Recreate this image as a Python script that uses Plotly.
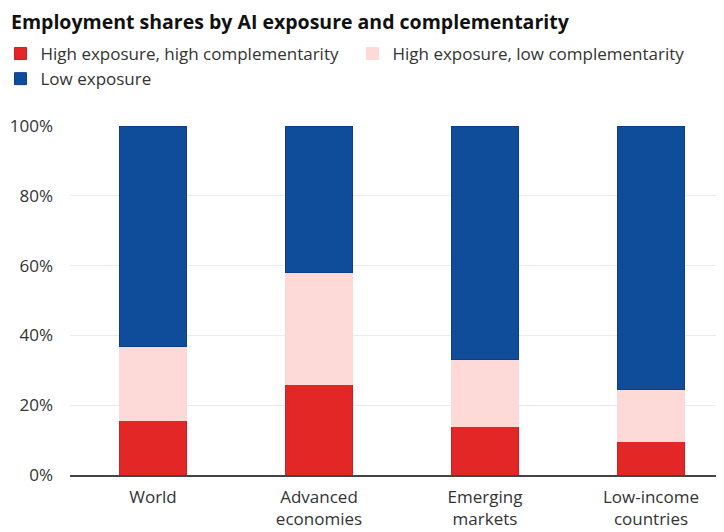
import plotly.graph_objects as go

categories = ["World", "Advanced<br>economies", "Emerging<br>markets", "Low-income<br>countries"]
high_high = [0.155, 0.258, 0.138, 0.095]
high_low = [0.212, 0.321, 0.192, 0.149]
low_exposure = [0.633, 0.421, 0.670, 0.756]
series_names = ["High exposure, high complementarity", "High exposure, low complementarity", "Low exposure"]
tick_vals = [0, 0.2, 0.4, 0.6, 0.8, 1.0]
tick_text = ["0%", "20%", "40%", "60%", "80%", "100%"]

colors = ["#E32726", "#FDD9D8", "#0F4C99"]
line_colors = ["#D01F22", "#FDD9D8", "#0B3F8A"]

FONT = "Open Sans"
W, H = 724, 532
ML, MR, MT, MB = 62, 8, 118, 65
PW, PH = W - ML - MR, H - MT - MB

fig = go.Figure()
for name, vals, c, lc in zip(series_names, [high_high, high_low, low_exposure], colors, line_colors):
    fig.add_trace(go.Bar(
        x=categories, y=vals, name=name,
        marker=dict(color=c, line=dict(color=lc, width=1)),
        width=0.4,
    ))

fig.update_layout(
    width=W, height=H,
    barmode="stack",
    paper_bgcolor="white", plot_bgcolor="white",
    margin=dict(l=ML, r=MR, t=MT, b=MB, autoexpand=False),
    font=dict(family=FONT, size=17, color="#333333"),
    title=dict(
        text="<b>Employment shares by AI exposure and complementarity</b>",
        x=3 / W, xref="container", xanchor="left",
        y=1 - 14 / H, yref="container", yanchor="middle",
        font=dict(family=FONT, size=19.5, color="#111111"),
    ),
    legend=dict(
        orientation="h",
        x=(-7.5 - ML) / PW, xref="paper", xanchor="left",
        y=1 + (MT - 28) / PH, yref="paper", yanchor="top",
        entrywidth=307, traceorder="normal",
        font=dict(family=FONT, size=17, color="#333333"),
        itemclick=False, tracegroupgap=0,
    ),
    xaxis=dict(
        range=[-0.5, 3.44], showgrid=False,
        showline=True, linecolor="#444444", linewidth=1.5,
        ticks="", ticklabelstandoff=6,
        tickfont=dict(size=17, color="#333333"),
    ),
    yaxis=dict(
        range=[0, 1.0], tickvals=tick_vals, ticktext=tick_text,
        showgrid=True, gridcolor="#EBEBEB", gridwidth=1,
        zeroline=False, showline=False,
        ticks="", ticklabelstandoff=16,
        tickfont=dict(size=17, color="#333333"),
    ),
    bargap=0.6,
)

fig.write_html("out.html")
